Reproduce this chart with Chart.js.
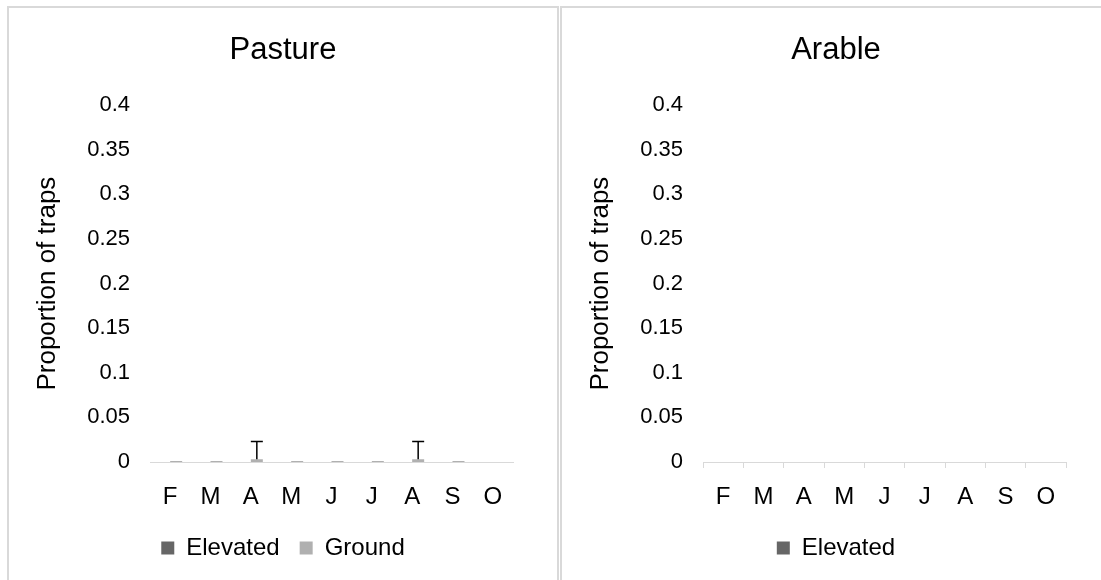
<!DOCTYPE html>
<html>
<head>
<meta charset="utf-8">
<script src="https://cdn.jsdelivr.net/npm/chart.js@4/dist/chart.umd.min.js"></script>
<style>
  html, body { margin: 0; padding: 0; background: #fff; width: 1101px; height: 580px; overflow: hidden; }
  .panel { position: absolute; top: 6px; width: 548px; height: 580px; border: 2px solid #d9d9d9; border-bottom: none; background: #fff; }
  #p1 { left: 7px; }
  #p2 { left: 560px; }
  canvas { display: block; }
</style>
</head>
<body>
<div class="panel" id="p1"><canvas id="pasture" width="548" height="572"></canvas></div>
<div class="panel" id="p2"><canvas id="arable" width="548" height="572"></canvas></div>
<script>
// Months sampled, February to October
const months = ['F', 'M', 'A', 'M', 'J', 'J', 'A', 'S', 'O'];

// Proportion of traps with captures
const pastureElevated = [0, 0, 0, 0, 0, 0, 0, 0, 0];
const pastureGround = [0.001, 0.001, 0.003, 0.001, 0.001, 0.001, 0.003, 0.001, 0];
const pastureGroundErr = [0, 0, 0.02, 0, 0, 0, 0.02, 0, 0];
const arableElevated = [0, 0, 0, 0, 0, 0, 0, 0, 0];

// Y axis ticks
const yTickValues = [0, 0.05, 0.1, 0.15, 0.2, 0.25, 0.3, 0.35, 0.4];
const yTickLabels = ['0', '0.05', '0.1', '0.15', '0.2', '0.25', '0.3', '0.35', '0.4'];

const FONT = "'Liberation Sans', Arial, sans-serif";
const ELEVATED_COLOR = '#666666';
const GROUND_COLOR = '#b0b0b0';
const AXIS_COLOR = '#d9d9d9';

Chart.defaults.font.family = FONT;
Chart.defaults.color = '#000';

// Plus-direction error bars drawn on top of the bars of one dataset
const errorBarPlugin = {
  id: 'errorBars',
  afterDatasetsDraw(chart, args, opts) {
    if (!opts || !opts.errors) return;
    const meta = chart.getDatasetMeta(opts.datasetIndex);
    const y = chart.scales.y;
    const data = chart.data.datasets[opts.datasetIndex].data;
    const ctx = chart.ctx;
    ctx.save();
    ctx.strokeStyle = '#000';
    ctx.lineWidth = 1.5;
    meta.data.forEach((bar, i) => {
      const e = opts.errors[i];
      if (!e) return;
      const top = y.getPixelForValue(data[i] + e);
      const half = 6;
      ctx.beginPath();
      ctx.moveTo(bar.x, bar.y);
      ctx.lineTo(bar.x, top);
      ctx.moveTo(bar.x - half, top);
      ctx.lineTo(bar.x + half, top);
      ctx.stroke();
    });
    ctx.restore();
  }
};

function makeOptions(title, showTicks, errors) {
  return {
    responsive: false,
    animation: false,
    devicePixelRatio: 1,
    layout: { padding: { left: 0, right: 0, top: 0, bottom: 10 } },
    datasets: { bar: { categoryPercentage: 0.595, barPercentage: 1 } },
    plugins: {
      title: {
        display: true,
        text: title,
        color: '#000',
        font: { size: 31, weight: 'normal' },
        padding: { top: 24, bottom: 36 }
      },
      legend: {
        position: 'bottom',
        labels: {
          boxWidth: 13,
          boxHeight: 13,
          padding: 20,
          color: '#000',
          font: { size: 24 }
        }
      },
      tooltip: { enabled: false },
      errorBars: errors ? { datasetIndex: 1, errors: errors } : false
    },
    scales: {
      x: {
        offset: true,
        grid: {
          display: showTicks,
          offset: true,
          drawOnChartArea: false,
          drawTicks: true,
          tickLength: 6,
          color: AXIS_COLOR
        },
        border: { display: true, color: AXIS_COLOR, width: 1 },
        ticks: { padding: 15, color: '#000', font: { size: 24 } },
        afterFit(scale) { scale.height = 54; }
      },
      y: {
        min: 0,
        max: 0.4,
        grid: { display: false, drawTicks: false },
        border: { display: false },
        afterBuildTicks(scale) { scale.ticks = yTickValues.map(v => ({ value: v })); },
        ticks: {
          padding: 20,
          color: '#000',
          font: { size: 22 },
          callback: (value, index) => yTickLabels[index]
        },
        title: {
          display: true,
          text: 'Proportion of traps',
          color: '#000',
          font: { size: 26 },
          padding: { top: 23, bottom: 0 }
        },
        afterFit(scale) { scale.width = 141; }
      },
      // blank right-hand margin so title and legend stay centred in the panel
      margin: {
        position: 'right',
        grid: { display: false, drawTicks: false },
        border: { display: false },
        ticks: { display: false },
        afterFit(scale) { scale.width = 44; }
      }
    }
  };
}

new Chart(document.getElementById('pasture'), {
  type: 'bar',
  data: {
    labels: months,
    datasets: [
      { label: 'Elevated', data: pastureElevated, backgroundColor: ELEVATED_COLOR },
      { label: 'Ground', data: pastureGround, backgroundColor: GROUND_COLOR }
    ]
  },
  options: makeOptions('Pasture', false, pastureGroundErr),
  plugins: [errorBarPlugin]
});

new Chart(document.getElementById('arable'), {
  type: 'bar',
  data: {
    labels: months,
    datasets: [
      { label: 'Elevated', data: arableElevated, backgroundColor: ELEVATED_COLOR }
    ]
  },
  options: makeOptions('Arable', true, null),
  plugins: [errorBarPlugin]
});
</script>
</body>
</html>
